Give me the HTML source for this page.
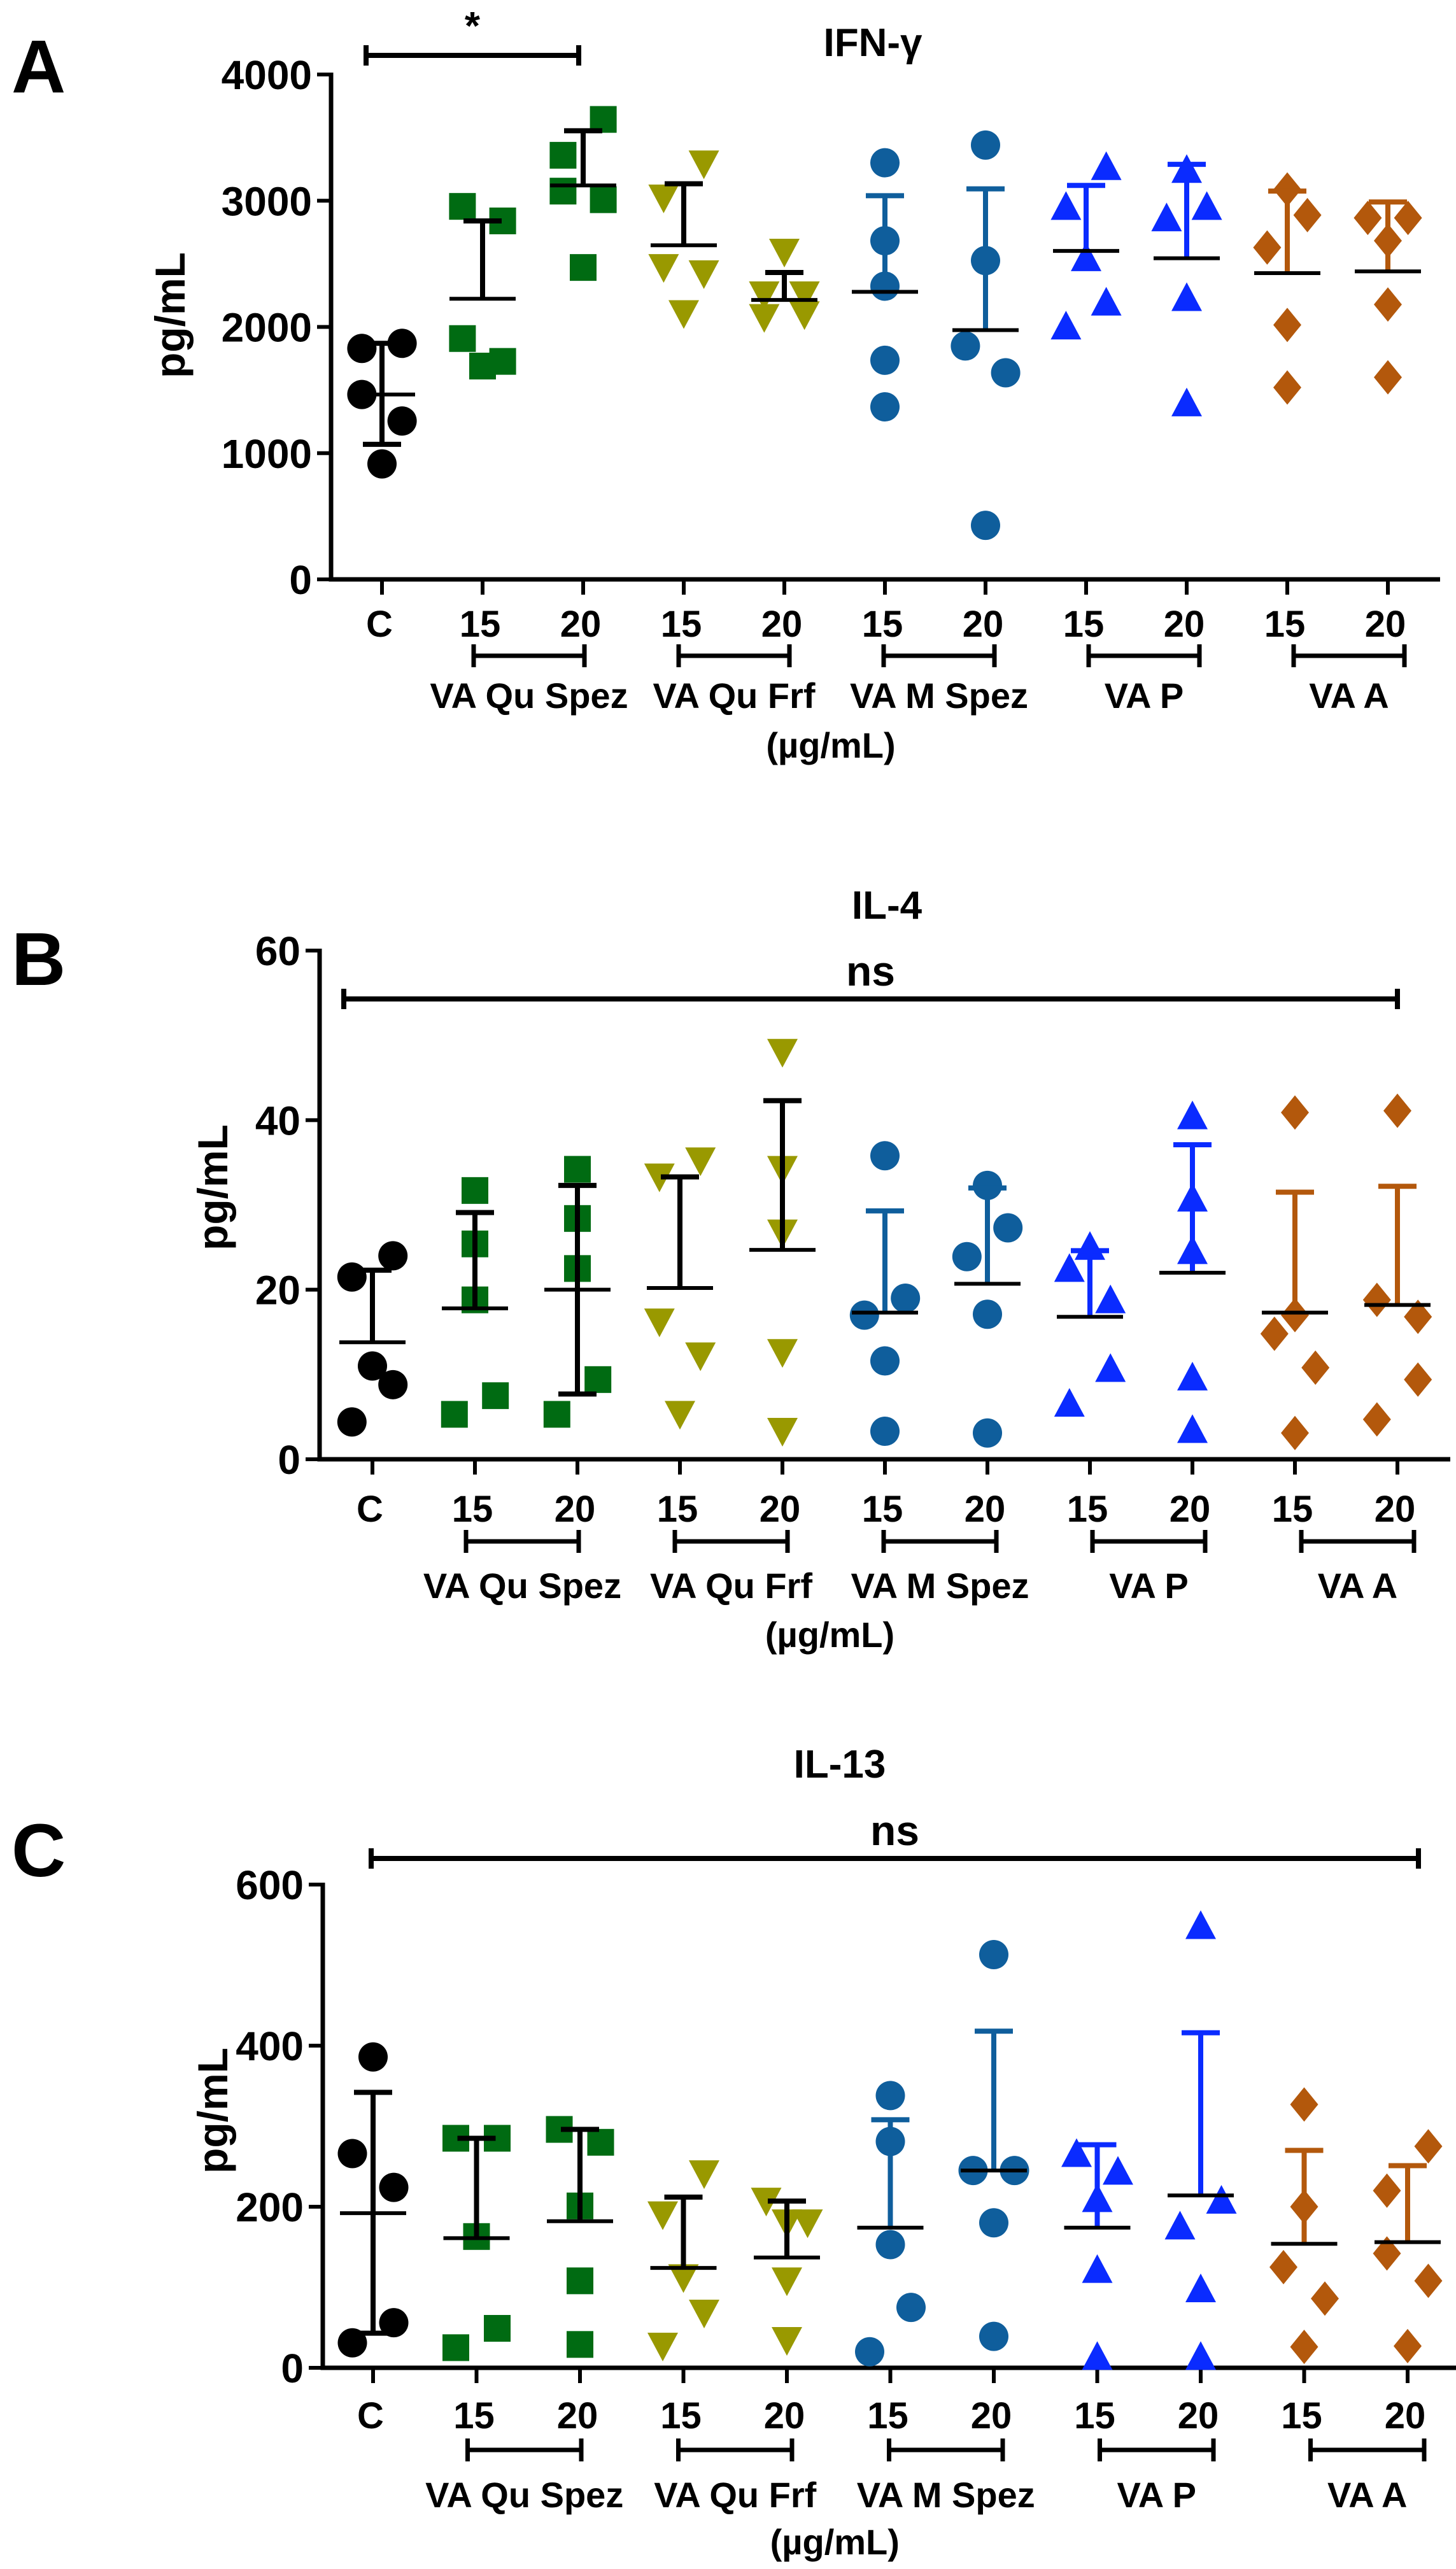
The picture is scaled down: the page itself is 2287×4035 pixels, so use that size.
<!DOCTYPE html>
<html><head><meta charset="utf-8">
<style>
html,body{margin:0;padding:0;background:#fff;}
svg{display:block;font-family:"Liberation Sans",Arial,sans-serif;font-weight:bold;}
</style></head>
<body>
<svg id="fig" width="2287" height="4035" viewBox="0 0 2287 4035" xmlns="http://www.w3.org/2000/svg"></svg>
<script>
// ---- data ----
const groupNames = ["C","VA Qu Spez 15","VA Qu Spez 20","VA Qu Frf 15","VA Qu Frf 20","VA M Spez 15","VA M Spez 20","VA P 15","VA P 20","VA A 15","VA A 20"];
const tickLabels = ["C","15","20","15","20","15","20","15","20","15","20"];
const extractNames = ["VA Qu Spez","VA Qu Frf","VA M Spez","VA P","VA A"];

// IFN-gamma
const ifnPoints = [[1830,1870,1465,1255,915],[2955,2840,1908,1690,1727],[3644,3360,3076,3008,2471],[3292,3022,2471,2422,2106],[2593,2255,2255,2075,2097],[3301,2683,2323,1736,1367],[3441,2526,1849,1637,428],[3270,2954,2548,2196,2007],[3247,2864,2954,2232,1398],[3089,2886,2629,2016,1520],[2864,2864,2683,2178,1601]];
const ifnMeans = [1465,2223,3121,2647,2214,2278,1975,2602,2544,2426,2440];
const ifnUpper = [1870,2840,3554,3134,2431,3040,3094,3121,3288,3076,2990];
const ifnLower = [1070,null,null,null,null,null,null,null,null,null,null];
const ifnTicks = [0,1000,2000,3000,4000];

// IL-4
const il4Points = [[21.5,24,11,8.8,4.4],[31.7,25.4,18.8,7.5,5.3],[34.2,28.4,22.5,9.4,5.3],[35.2,33.3,16.2,12.2,5.3],[48,34.2,26.7,12.6,3.3],[35.8,19,17,11.6,3.3],[32.3,27.3,23.9,17.1,3.1],[25.1,22.5,18.8,10.7,6.6],[40.5,30.8,24.6,9.7,3.5],[40.9,17,14.8,10.8,3.1],[41.1,18.8,16.8,9.4,4.7]];
const il4Means = [13.8,17.8,20.0,20.2,24.7,17.3,20.7,16.8,22.0,17.3,18.2];
const il4Upper = [22.3,29.1,32.3,33.3,42.3,29.3,32.0,24.6,37.1,31.5,32.2];
const il4Lower = [null,null,7.7,null,null,null,null,null,null,null,null];
const il4Ticks = [0,20,40,60];

// IL-13
const il13Points = [[386,266,224,56,31],[285,285,163,49,25],[296,280,201,108,29],[241,190,112,68,27],[207,180,180,108,34],[338,281,153,75,20],[513,245,245,180,39],[266,244,210,122,14],[549,208,176,98,14],[327,200,125,86,26],[275,220,142,108,27]];
const il13Means = [192,161,182,124,137,174,245,174,214,154,156];
const il13Upper = [342,285,296,212,207,308,418,277,416,270,251];
const il13Lower = [43,null,null,null,null,null,null,null,null,null,null];
const il13Ticks = [0,200,400,600];

// ---- layout: horizontal scatter offsets (-1,0,+1) per point ----
const jitA = [[-1,1,-1,1,0],[-1,1,-1,0,1],[1,-1,-1,1,0],[1,-1,-1,1,0],[0,-1,1,-1,1],[0,0,0,0,0],[0,0,-1,1,0],[1,-1,0,1,-1],[0,-1,1,0,0],[0,1,-1,0,0],[-1,1,0,0,0]];
const jitB = [[-1,1,0,1,-1],[0,0,0,1,-1],[0,0,0,1,-1],[1,-1,-1,1,0],[0,0,0,0,0],[0,1,-1,0,0],[0,1,-1,0,0],[0,-1,1,1,-1],[0,0,0,0,0],[0,0,-1,1,0],[0,-1,1,1,-1]];
const jitC = [[0,-1,1,1,-1],[-1,1,0,1,-1],[-1,1,0,0,0],[1,-1,0,1,-1],[-1,1,0,0,0],[0,0,0,1,-1],[0,-1,1,0,0],[-1,1,0,0,0],[0,1,-1,0,0],[0,0,-1,1,0],[1,-1,-1,1,0]];

function colorOf(i){return ["#000","#006b12","#006b12","#999900","#999900","#0f5e9c","#0f5e9c","#0a2bff","#0a2bff","#b3580c","#b3580c"][i];}
function barColorOf(i){return ["#000","#000","#000","#000","#000","#0f5e9c","#0f5e9c","#0a2bff","#0a2bff","#b3580c","#b3580c"][i];}
function shapeOf(i){return ["circle","square","square","down","down","circle","circle","up","up","diamond","diamond"][i];}

const svg = document.getElementById('fig');
const NS = "http://www.w3.org/2000/svg";
function mk(tag, attrs, parent){const e=document.createElementNS(NS,tag);for(const k in attrs)e.setAttribute(k,attrs[k]);(parent||svg).appendChild(e);return e;}

const panels = [
 {letter:"A",title:"IFN-γ",points:ifnPoints,means:ifnMeans,upper:ifnUpper,lower:ifnLower,ticks:ifnTicks,jit:jitA,
  axX:520,y0:910,yTop:117,vmax:4000,x0:600,dx:158,axEnd:2262,labelX:268,labelY:495,
  titleX:1371,titleY:88,letterY:145,numY:1000,brY:1030,nameY:1112,unitY:1190,
  sig:{x1:575,x2:909,y:87,text:"*",ty:62}},
 {letter:"B",title:"IL-4",points:il4Points,means:il4Means,upper:il4Upper,lower:il4Lower,ticks:il4Ticks,jit:jitB,
  axX:502,y0:2292,yTop:1493,vmax:60,x0:585,dx:161,axEnd:2278,labelX:335,labelY:1865,
  titleX:1393,titleY:1443,letterY:1547,numY:2390,brY:2421,nameY:2510,unitY:2587,
  sig:{x1:540,x2:2195,y:1569,text:"ns",ty:1548}},
 {letter:"C",title:"IL-13",points:il13Points,means:il13Means,upper:il13Upper,lower:il13Lower,ticks:il13Ticks,jit:jitC,
  axX:507,y0:3719,yTop:2960,vmax:600,x0:586,dx:162.5,axEnd:2287,labelX:335,labelY:3315,
  titleX:1319,titleY:2792,letterY:2947,numY:3814,brY:3848,nameY:3938,unitY:4012,
  sig:{x1:583,x2:2228,y:2919,text:"ns",ty:2898}}
];

panels.forEach((p,pi)=>{
  const g = mk('g',{});
  
  
  const Y = v => p.y0 - (v/p.vmax)*(p.y0-p.yTop);
  const X = i => p.x0 + i*p.dx;
  const L = mk('text',{x:18,y:p.letterY,'font-size':118,fill:'#000'},g);
  L.textContent=p.letter;
  
  
  const T = mk('text',{x:p.titleX,y:p.titleY,'font-size':62,'text-anchor':'middle',fill:'#000'},g);
  T.textContent=p.title;
  
  
  const YL = mk('text',{x:0,y:0,'font-size':66,'text-anchor':'middle',fill:'#000',transform:`translate(${p.labelX+22},${p.labelY}) rotate(-90)`},g);
  YL.textContent='pg/mL';
  
  
  const ax = mk('path',{d:`M${p.axX},${p.yTop-3} V${p.y0} H${p.axEnd}`,stroke:'#000','stroke-width':7,fill:'none'},g);
  
  
  p.ticks.forEach(t=>{
    const tk = mk('line',{x1:p.axX-22,x2:p.axX,y1:Y(t),y2:Y(t),stroke:'#000','stroke-width':6},g);
    
    
    const tl = mk('text',{x:p.axX-30,y:Y(t)+23,'font-size':64,'text-anchor':'end',fill:'#000'},g);
    tl.textContent=String(t);
    
    
  });
  tickLabels.forEach((lab,i)=>{
    const tk = mk('line',{x1:X(i),x2:X(i),y1:p.y0,y2:p.y0+24,stroke:'#000','stroke-width':6},g);
    
    
    const tl = mk('text',{x:X(i)-4,y:p.numY,'font-size':58,'text-anchor':'middle',fill:'#000'},g);
    tl.textContent=lab;
    
    
  });
  extractNames.forEach((nm,k)=>{
    const off = -6 + 6*k;
    const a = X(1+2*k)-8+off, b = X(2+2*k)+8+off;
    const br = mk('path',{d:`M${a},${p.brY-18} V${p.brY+18} M${a},${p.brY} H${b} M${b},${p.brY-18} V${p.brY+18}`,stroke:'#000','stroke-width':7,fill:'none'},g);
    
    
    const nt = mk('text',{x:(a+b)/2,y:p.nameY,'font-size':56,'text-anchor':'middle',fill:'#000'},g);
    nt.textContent=nm;
    
    
  });
  const ut = mk('text',{x:(X(5)+X(4))/2-6,y:p.unitY,'font-size':56,'text-anchor':'middle',fill:'#000'},g);
  ut.textContent='(µg/mL)';
  
  
  const s=p.sig;
  const sb = mk('path',{d:`M${s.x1},${s.y-16} V${s.y+16} M${s.x1},${s.y} H${s.x2} M${s.x2},${s.y-16} V${s.y+16}`,stroke:'#000','stroke-width':8,fill:'none'},g);
  
  
  const st = mk('text',{x:(s.x1+s.x2)/2,y:s.ty,'font-size':s.text==='*'?62:66,'text-anchor':'middle',fill:'#000'},g);
  st.textContent=s.text;
  
  
  p.points.forEach((arr,i)=>{
    const c = colorOf(i), sh = shapeOf(i);
    arr.forEach((v,j)=>{
      const cx = X(i) + p.jit[i][j]*0.2*p.dx, cy = Y(v);
      let m;
      if(sh==='circle') m = mk('circle',{cx:cx,cy:cy,r:23,fill:c},g);
      else if(sh==='square') m = mk('rect',{x:cx-21,y:cy-21,width:42,height:42,fill:c},g);
      else if(sh==='down') m = mk('path',{d:`M${cx-24},${cy-21} H${cx+24} L${cx},${cy+24} Z`,fill:c},g);
      else if(sh==='up') m = mk('path',{d:`M${cx-24},${cy+21} H${cx+24} L${cx},${cy-24} Z`,fill:c},g);
      else m = mk('path',{d:`M${cx},${cy-27} L${cx+22},${cy} L${cx},${cy+27} L${cx-22},${cy} Z`,fill:c},g);
      
      
    });
    const bc = barColorOf(i);
    const top = Y(p.upper[i]), mid = Y(p.means[i]);
    const bot = p.lower[i]==null ? mid : Y(p.lower[i]);
    const eb = mk('path',{d:`M${X(i)},${top} V${bot} M${X(i)-30},${top} H${X(i)+30}`+(p.lower[i]==null?'':` M${X(i)-30},${bot} H${X(i)+30}`),stroke:bc,'stroke-width':8,fill:'none'},g);
    
    
    const ml = mk('line',{x1:X(i)-52,x2:X(i)+52,y1:mid,y2:mid,stroke:'#000','stroke-width':6},g);
    
    
  });
});
</script>
</body></html>
